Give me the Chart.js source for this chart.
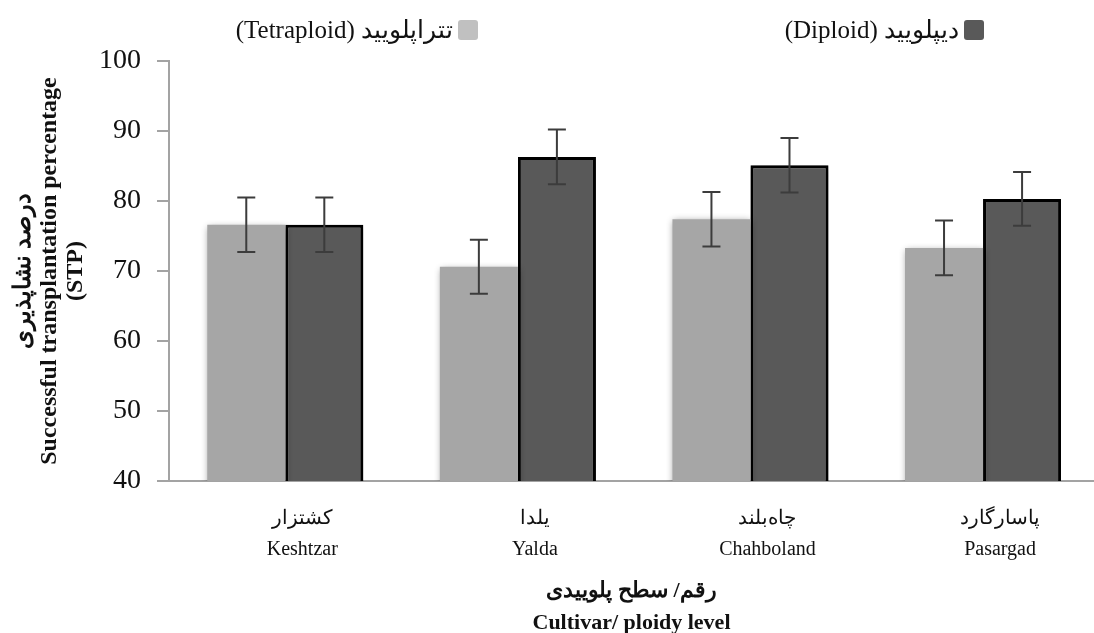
<!DOCTYPE html>
<html>
<head>
<meta charset="utf-8">
<script src="https://cdn.jsdelivr.net/npm/chart.js@4.4.1/dist/chart.umd.min.js"></script>
<style>
  html, body { margin: 0; padding: 0; background: #fff; }
  #wrap { position: relative; width: 1094px; height: 633px; overflow: hidden; }
  .leg {
    position: absolute; top: 15px; display: flex; align-items: center;
    font: 25px 'Liberation Serif', 'DejaVu Serif', serif; color: #111; white-space: nowrap;
  }
  .leg .box { width: 20px; height: 20px; border-radius: 3px; margin-left: 5px; }
</style>
</head>
<body>
<div id="wrap">
  <canvas id="chart" width="1094" height="633"></canvas>
  <div class="leg" id="leg0" style="right:616px"><span></span><span class="box"></span></div>
  <div class="leg" id="leg1" style="right:110px"><span></span><span class="box"></span></div>
</div>
<script>
// ── data ────────────────────────────────────────────────────────────
const cultivarsFa   = ['کشتزار', 'یلدا', 'چاه‌بلند', 'پاسارگارد'];
const cultivarsEn   = ['Keshtzar', 'Yalda', 'Chahboland', 'Pasargad'];
const positions     = [1, 2, 3, 4];
const seriesLabels  = ['(Tetraploid) تتراپلویید', '(Diploid) دیپلویید'];
const tetraploid    = [76.6, 70.6, 77.4, 73.3];
const tetraploidErr = [3.9, 3.85, 3.9, 3.9];
const diploid       = [76.6, 86.3, 85.1, 80.3];
const diploidErr    = [3.9, 3.9, 3.9, 3.85];
const yTicks        = [40, 50, 60, 70, 80, 90, 100];
const yTitle        = ['درصد نشاپذیری', 'Successful transplantation percentage', '(STP)'];
const xTitle        = ['رقم/ سطح پلوییدی', 'Cultivar/ ploidy level'];

const FONT = "'Liberation Serif', 'Times New Roman', serif";
const legendBoxColors = ['#c0c0c0', '#595959'];

// legend (html, right-to-left item layout like the original)
seriesLabels.forEach((txt, i) => {
  const el = document.getElementById('leg' + i);
  el.children[0].textContent = txt;
  el.children[1].style.background = legendBoxColors[i];
});

// soft shadow under bars + error bars on top
const barExtras = {
  id: 'barExtras',
  beforeDatasetsDraw(chart) {
    const ctx = chart.ctx;
    ctx.save();
    ctx.shadowColor   = 'rgba(0,0,0,0.45)';
    ctx.shadowBlur    = 7;
    ctx.shadowOffsetX = 1;
    ctx.shadowOffsetY = 2;
  },
  afterDatasetsDraw(chart) {
    const ctx = chart.ctx;
    ctx.restore();
    const ys = chart.scales.y;
    ctx.save();
    ctx.strokeStyle = '#3c3c3c';
    ctx.lineWidth   = 2;
    chart.data.datasets.forEach((ds, di) => {
      chart.getDatasetMeta(di).data.forEach((bar, i) => {
        const v   = ds.data[i].y;
        const e   = ds.errors[i];
        const top = ys.getPixelForValue(v + e);
        const bot = ys.getPixelForValue(v - e);
        ctx.beginPath();
        ctx.moveTo(bar.x, top);     ctx.lineTo(bar.x, bot);
        ctx.moveTo(bar.x - 9, top); ctx.lineTo(bar.x + 9, top);
        ctx.moveTo(bar.x - 9, bot); ctx.lineTo(bar.x + 9, bot);
        ctx.stroke();
      });
    });
    ctx.restore();
  }
};

new Chart(document.getElementById('chart'), {
  type: 'bar',
  data: {
    datasets: [
      {
        label: seriesLabels[0],
        data: positions.map((x, i) => ({ x, y: tetraploid[i] })),
        errors: tetraploidErr,
        backgroundColor: '#a6a6a6',
        borderWidth: 0,
      },
      {
        label: seriesLabels[1],
        data: positions.map((x, i) => ({ x, y: diploid[i] })),
        errors: diploidErr,
        backgroundColor: '#595959',
        borderColor: '#000',
        borderWidth: 3,
      },
    ]
  },
  options: {
    responsive: false,
    animation: false,
    categoryPercentage: 0.671,
    barPercentage: 1,
    layout: { padding: { top: 61, left: 0, right: 0, bottom: 0 } },
    plugins: {
      legend: { display: false },
      tooltip: { enabled: false },
    },
    scales: {
      x: {
        type: 'linear',
        offset: false,
        min: 0.5,
        max: 4.477,
        afterBuildTicks: s => { s.ticks = positions.map(v => ({ value: v })); },
        afterFit: s => { s.height = 152; },
        grid: { display: false, offset: false },
        border: { color: '#a3a3a3', width: 2 },
        ticks: {
          callback: (v, i) => [cultivarsFa[i], cultivarsEn[i]],
          font: { family: FONT, size: 20, lineHeight: 1.55 },
          color: '#111',
          padding: 14,
          labelOffset: 17,
          maxRotation: 0,
          autoSkip: false,
        },
        title: {
          display: true,
          text: xTitle,
          font: { family: FONT, size: 22, weight: 'bold', lineHeight: 1.45 },
          color: '#111',
          padding: { top: 0, bottom: -6 },
        },
      },
      y: {
        min: 40,
        max: 100,
        afterBuildTicks: s => { s.ticks = yTicks.map(v => ({ value: v })); },
        afterFit: s => { s.width = 169; },
        grid: { drawOnChartArea: false, tickLength: 12, color: '#a3a3a3', lineWidth: 2 },
        border: { color: '#a3a3a3', width: 2 },
        ticks: { font: { family: FONT, size: 28 }, color: '#111', padding: 16 },
        title: {
          display: true,
          text: yTitle,
          font: { family: FONT, size: 24, weight: 'bold', lineHeight: 1.08 },
          color: '#111',
          padding: { top: 11, bottom: 0 },
        },
      },
    },
  },
  plugins: [barExtras],
});
</script>
</body>
</html>
